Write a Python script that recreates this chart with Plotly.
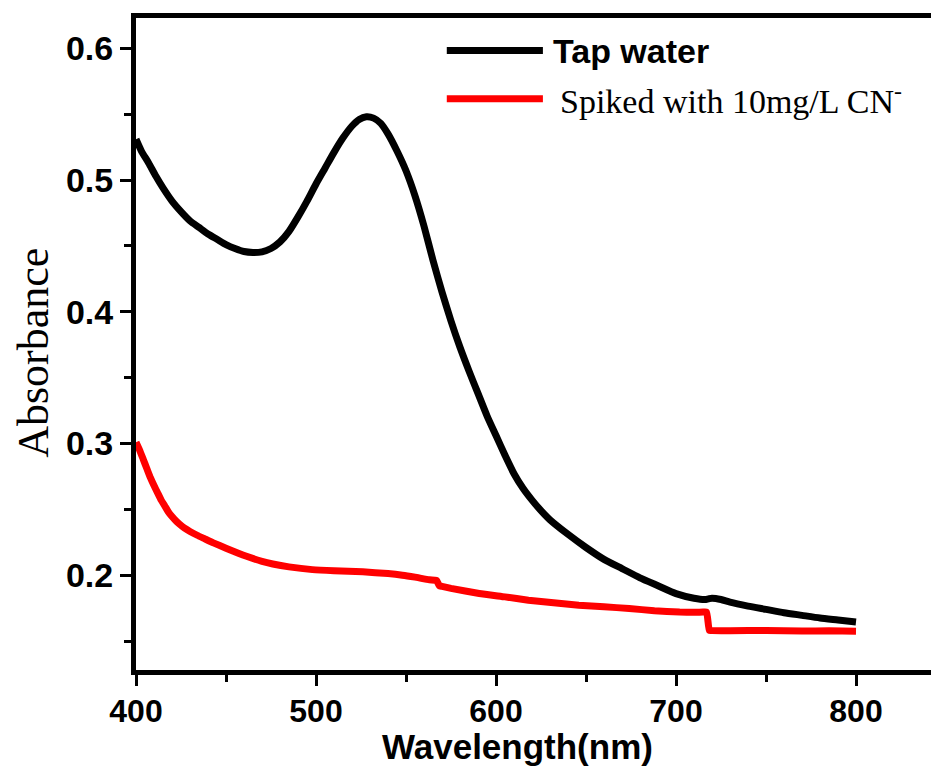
import plotly.graph_objects as go

# ---- data ----
tap_x = [400, 403, 407, 411, 415, 420, 425, 430, 435, 440, 445, 450, 455, 460, 465, 470,
         475, 480, 485, 490, 495, 500, 505, 510, 515, 520, 524, 528, 532, 536, 540, 545,
         550, 555, 560, 565, 570, 575, 580, 585, 590, 595, 600, 605, 610, 615, 620, 625,
         630, 640, 650, 660, 670, 680, 690, 700, 710, 716, 718, 720, 725, 730, 740, 750,
         760, 770, 780, 790, 800]
tap_y = [0.531, 0.522, 0.513, 0.503, 0.494, 0.484, 0.476, 0.469, 0.464, 0.459, 0.455, 0.451,
         0.448, 0.4457, 0.445, 0.4455, 0.448, 0.453, 0.461, 0.472, 0.484, 0.497, 0.509, 0.521,
         0.532, 0.541, 0.546, 0.548, 0.547, 0.543, 0.535, 0.522, 0.507, 0.488, 0.465, 0.439,
         0.415, 0.393, 0.373, 0.355, 0.338, 0.321, 0.306, 0.291, 0.277, 0.266, 0.257, 0.249,
         0.242, 0.231, 0.221, 0.212, 0.205, 0.198, 0.192, 0.186, 0.1825, 0.1815, 0.182,
         0.1825, 0.1815, 0.1795, 0.1765, 0.174, 0.1715, 0.1695, 0.1675, 0.166, 0.1645]

spk_x = [400, 402, 404, 406, 408, 410, 412, 414, 416, 418, 420, 422, 424, 427, 430, 434,
         438, 443, 450, 461, 470, 476, 485, 498, 510, 526, 540, 548, 555, 563, 566, 567,
         568.5, 570, 575, 590.7, 605, 618, 632, 646, 660, 674, 688, 702, 710, 715, 717,
         718.5, 720, 730, 750, 770, 785, 800]
spk_y = [0.301, 0.295, 0.288, 0.281, 0.274, 0.268, 0.2625, 0.257, 0.2525, 0.248, 0.2445,
         0.2415, 0.239, 0.2357, 0.2332, 0.2303, 0.2277, 0.2245, 0.2205, 0.2145, 0.2105,
         0.2085, 0.2063, 0.2042, 0.2033, 0.2025, 0.2012, 0.200, 0.1985, 0.1965, 0.1961,
         0.196, 0.192, 0.1915, 0.190, 0.1861, 0.1835, 0.181, 0.179, 0.1772, 0.176, 0.1747,
         0.173, 0.172, 0.1718, 0.172, 0.172, 0.158, 0.158, 0.1578, 0.158, 0.1576, 0.1578,
         0.1575]

x_ticks = [400, 500, 600, 700, 800]
y_ticks = [0.2, 0.3, 0.4, 0.5, 0.6]
y_ticktext = ["0.2", "0.3", "0.4", "0.5", "0.6"]

series_names = ["Tap water", "Spiked with 10mg/L CN<sup>-</sup>"]
series_colors = ["#000000", "#ff0000"]

fig = go.Figure()
fig.add_trace(go.Scatter(x=tap_x, y=tap_y, mode="lines", name=series_names[0],
                         line=dict(color=series_colors[0], width=7, shape="spline",
                                   smoothing=0.6),
                         showlegend=False))
fig.add_trace(go.Scatter(x=spk_x, y=spk_y, mode="lines", name=series_names[1],
                         line=dict(color=series_colors[1], width=7, shape="spline",
                                   smoothing=0.4),
                         showlegend=False))

ytickfont = dict(family="Liberation Sans, Arial, sans-serif", size=34, color="black", weight="bold")
xtickfont = dict(family="Liberation Sans, Arial, sans-serif", size=32, color="black", weight="bold")

# the page body adds an 8px offset, so the figure is 8px smaller than the window
fig.update_layout(
    width=931, height=767,
    paper_bgcolor="white", plot_bgcolor="white",
    margin=dict(l=128, r=2, t=10, b=105, autoexpand=False),
    xaxis=dict(range=[400, 845], tickvals=x_ticks, ticks="outside", ticklen=11, tickwidth=2.5,
               tickcolor="black", showline=True, mirror=True, linewidth=5, linecolor="black",
               showgrid=False, zeroline=False, tickfont=xtickfont, ticklabelstandoff=-2,
               automargin=False,
               minor=dict(dtick=50, tick0=400, ticks="outside", ticklen=7, tickwidth=2.5,
                          tickcolor="black", showgrid=False)),
    yaxis=dict(range=[0.128, 0.623], tickvals=y_ticks, ticktext=y_ticktext, ticks="outside",
               ticklen=11, tickwidth=2.5, tickcolor="black", showline=True, mirror=True,
               linewidth=5, linecolor="black", showgrid=False, zeroline=False, tickfont=ytickfont,
               ticklabelstandoff=0, automargin=False,
               minor=dict(dtick=0.05, tick0=0.2, ticks="outside", ticklen=7, tickwidth=2.5,
                          tickcolor="black", showgrid=False)),
)

# axis titles
fig.add_annotation(xref="paper", yref="paper", x=0.4757, y=-0.117, text="Wavelength(nm)",
                   showarrow=False, xanchor="center", yanchor="middle",
                   font=dict(family="Liberation Sans, Arial, sans-serif", size=35,
                             color="black", weight="bold"))
fig.add_annotation(xref="paper", yref="paper", x=-0.129, y=0.486, text="Absorbance",
                   showarrow=False, textangle=-90, xanchor="center", yanchor="middle",
                   borderpad=0,
                   font=dict(family="Liberation Serif, Times New Roman, serif", size=44,
                             color="black"))

# legend (drawn manually to match the long sample lines)
leg_y = [0.950, 0.876]
leg_fonts = [dict(family="Liberation Sans, Arial, sans-serif", size=34, color="black", weight="bold"),
             dict(family="Liberation Serif, Times New Roman, serif", size=34, color="black")]
leg_text_x = [0.518, 0.5265]
for name, col, yy, fnt, tx in zip(series_names, series_colors, leg_y, leg_fonts, leg_text_x):
    fig.add_shape(type="line", xref="paper", yref="paper", x0=0.388, x1=0.508, y0=yy, y1=yy,
                  line=dict(color=col, width=7))
    fig.add_annotation(xref="paper", yref="paper", x=tx, y=yy, text=name, showarrow=False,
                       xanchor="left", yanchor="middle", font=fnt)

fig.write_html("out.html")
